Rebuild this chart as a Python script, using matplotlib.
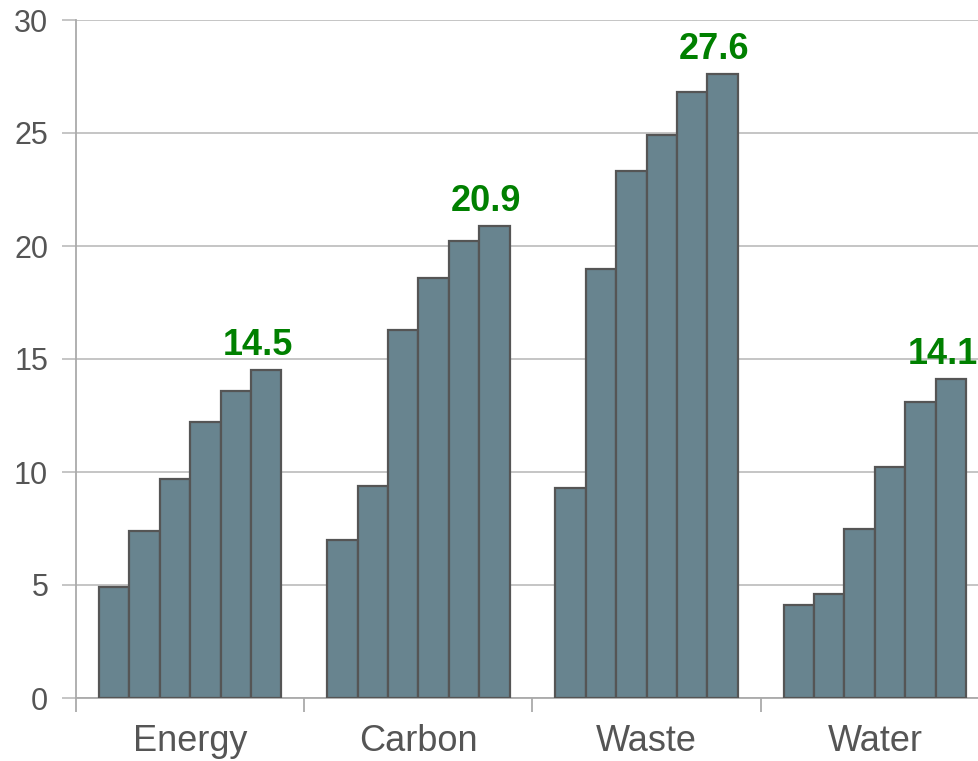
import numpy as np
import matplotlib
matplotlib.use("Agg")
import matplotlib.pyplot as plt
from matplotlib.ticker import FixedLocator

categories = ["Energy", "Carbon", "Waste", "Water"]
energy = [4.9, 7.4, 9.7, 12.2, 13.6, 14.5]
carbon = [7.0, 9.4, 16.3, 18.6, 20.2, 20.9]
waste = [9.3, 19.0, 23.3, 24.9, 26.8, 27.6]
water = [4.1, 4.6, 7.5, 10.2, 13.1, 14.1]
yticks = [0, 5, 10, 15, 20, 25, 30]

plt.rcParams["font.family"] = ["Liberation Sans", "DejaVu Sans"]

values = np.array([energy, carbon, waste, water])
n_groups, n_bars = values.shape
bar_w = 0.8 / n_bars
x = np.arange(n_groups)

fig = plt.figure(figsize=(9.79, 7.61), dpi=100)
# axes runs slightly past the right edge, like the original
ax = fig.add_axes([76 / 979, 63 / 761, 913 / 979, 678 / 761])

for i in range(n_bars):
    ax.bar(x - 0.4 + bar_w * (i + 0.5), values[:, i], width=bar_w,
           color="#68848f", edgecolor="#555555", linewidth=1.6, zorder=3)

# value label over the last bar of each group
for g in range(n_groups):
    xl = g - 0.4 + bar_w * (n_bars - 0.5)
    ax.annotate(f"{values[g, -1]:.1f}", (xl, values[g, -1]),
                xytext=(-6, 5), textcoords="offset points",
                ha="center", va="bottom", color="#008000",
                fontsize=26, fontweight="bold", zorder=4,
                annotation_clip=False)

ax.set_xlim(-0.5, n_groups - 0.5)
ax.set_ylim(0, 30)
ax.set_yticks(yticks)
ax.set_xticks(x)
ax.set_xticklabels(categories)
ax.xaxis.set_minor_locator(FixedLocator(np.arange(-0.5, n_groups, 1.0)))

ax.grid(axis="y", color="#c0c0c0", linewidth=1.3, zorder=0)
ax.tick_params(axis="x", which="major", length=0, pad=19,
               labelsize=26, labelcolor="#555555")
ax.tick_params(axis="x", which="minor", length=10, width=1.3,
               color="#aaaaaa")
ax.tick_params(axis="y", length=10, width=1.3, color="#c0c0c0",
               pad=10, labelsize=22, labelcolor="#555555")

for s in ["top", "right"]:
    ax.spines[s].set_visible(False)
for s in ["left", "bottom"]:
    ax.spines[s].set_color("#aaaaaa")
    ax.spines[s].set_linewidth(1.3)

fig.savefig("out.png", dpi=100)
